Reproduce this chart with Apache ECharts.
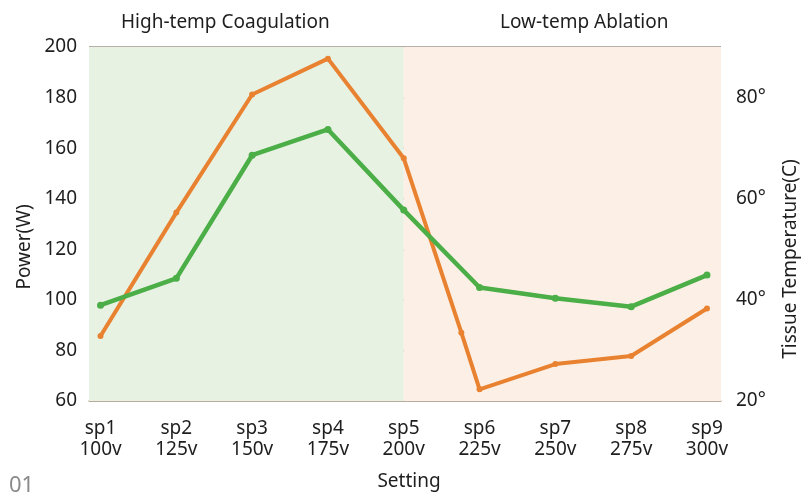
<!DOCTYPE html>
<html>
<head>
<meta charset="utf-8">
<script src="https://cdn.jsdelivr.net/npm/echarts@6/dist/echarts.min.js"></script>
<style>
  html, body { margin: 0; padding: 0; background: #fff; }
  #chart { width: 806px; height: 494px; }
</style>
</head>
<body>
<div id="chart"></div>
<script>
  // categories along the bottom
  var settings = ['sp1', 'sp2', 'sp3', 'sp4', 'sp5', 'sp6', 'sp7', 'sp8', 'sp9'];
  var volts = ['100v', '125v', '150v', '175v', '200v', '225v', '250v', '275v', '300v'];
  var settingPos = [1, 2, 3, 4, 5, 6, 7, 8, 9];

  // orange line (has one extra vertex between sp5 and sp6)
  var orangeX = [1, 2, 3, 4, 5, 5.76, 6, 7, 8, 9];
  var orangeY = [85.7, 134.5, 181.2, 195.4, 156, 87, 64.6, 74.6, 77.8, 96.6];

  // green line
  var greenY = [97.9, 108.5, 157.2, 167.4, 135.5, 104.9, 100.6, 97.3, 109.8];

  var powerTicks = [60, 80, 100, 120, 140, 160, 180, 200];
  var tempTicks = [20, 40, 60, 80];

  var zoneSplit = 5;
  var xMin = 0.848, xMax = 9.185;

  var font = 'Noto Sans';
  var txt = '#1e1e1e';

  var chart = echarts.init(document.getElementById('chart'));

  chart.setOption({
    backgroundColor: '#fff',
    animation: false,
    textStyle: { fontFamily: font },
    grid: { left: 89, right: 85, top: 47, bottom: 93 },
    graphic: [
      { type: 'text', left: 121, top: 13, style: { text: 'High-temp Coagulation', font: '19px "Noto Sans"', fill: txt } },
      { type: 'text', left: 500, top: 13, style: { text: 'Low-temp Ablation', font: '19px "Noto Sans"', fill: txt } },
      { type: 'text', x: 25, y: 247, rotation: Math.PI / 2,
        style: { text: 'Power(W)', font: '19px "Noto Sans"', fill: txt, align: 'center', verticalAlign: 'middle' } },
      { type: 'text', x: 791, y: 259, rotation: Math.PI / 2,
        style: { text: 'Tissue Temperature(C)', font: '19px "Noto Sans"', fill: txt, align: 'center', verticalAlign: 'middle' } },
      { type: 'text', x: 409, y: 482,
        style: { text: 'Setting', font: '19px "Noto Sans"', fill: txt, align: 'center', verticalAlign: 'middle' } },
      { type: 'text', left: 9, top: 475, style: { text: '01', font: '22px "Noto Sans"', fill: '#8a8a8a' } }
    ],
    xAxis: {
      type: 'value',
      min: xMin,
      max: xMax,
      axisLine: { show: true, lineStyle: { color: '#b9aa9c', width: 1.5 } },
      axisTick: { show: false },
      splitLine: { show: false },
      axisLabel: {
        customValues: settingPos,
        margin: 17,
        color: txt,
        fontSize: 19,
        lineHeight: 21,
        fontFamily: font,
        formatter: function (v) {
          var i = Math.round(v) - 1;
          return settings[i] + '\n' + volts[i];
        }
      }
    },
    yAxis: [{
      type: 'value',
      min: 60,
      max: 200,
      interval: 20,
      axisLine: { show: false },
      axisTick: { show: false },
      axisLabel: { color: txt, fontSize: 19, margin: 12, fontFamily: font },
      splitLine: { lineStyle: { color: '#9f968d', width: 1.5 } }
    }, {
      type: 'value',
      min: 20,
      max: 90,
      interval: 20,
      position: 'right',
      axisLine: { show: false },
      axisTick: { show: false },
      splitLine: { show: false },
      axisLabel: {
        color: txt, fontSize: 19, margin: 15, fontFamily: font, showMaxLabel: false,
        formatter: function (v) { return tempTicks.indexOf(v) >= 0 ? v + '°' : ''; }
      }
    }],
    series: [{
      type: 'line',
      data: orangeX.map(function (x, i) { return [x, orangeY[i]]; }),
      symbol: 'circle',
      symbolSize: 6,
      lineStyle: { color: '#e98230', width: 4 },
      itemStyle: { color: '#e98230' },
      z: 3,
      markArea: {
        silent: true,
        data: [
          [{ xAxis: xMin, itemStyle: { color: '#e7f2e3' } }, { xAxis: zoneSplit }],
          [{ xAxis: zoneSplit, itemStyle: { color: '#fcf0e6' } }, { xAxis: xMax }]
        ]
      }
    }, {
      type: 'line',
      data: settingPos.map(function (x, i) { return [x, greenY[i]]; }),
      symbol: 'circle',
      symbolSize: 7,
      lineStyle: { color: '#4bae47', width: 4.5 },
      itemStyle: { color: '#4bae47' },
      z: 4
    }]
  });
</script>
</body>
</html>
